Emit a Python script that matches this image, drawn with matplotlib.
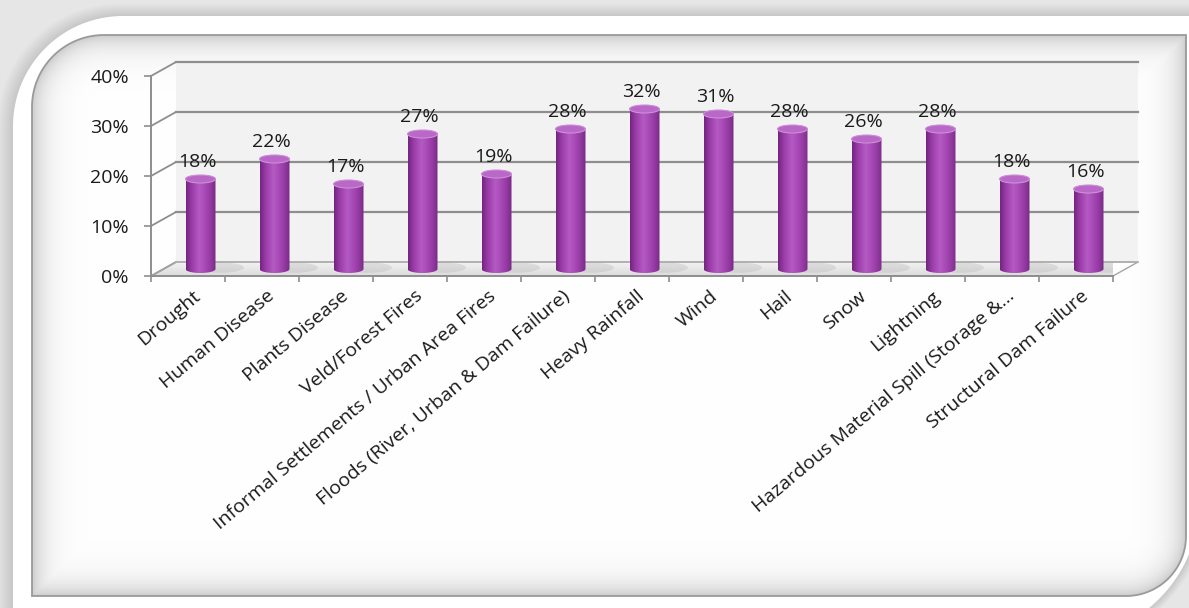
import numpy as np
import matplotlib
matplotlib.use("Agg")
import matplotlib.pyplot as plt
from matplotlib.path import Path
from matplotlib.patches import PathPatch, Ellipse, Polygon
from matplotlib.colors import LinearSegmentedColormap
from matplotlib.transforms import offset_copy

# --- dados ---
categories = [
    "Drought", "Human Disease", "Plants Disease", "Veld/Forest Fires",
    "Informal Settlements / Urban Area Fires",
    "Floods (River, Urban & Dam Failure)", "Heavy Rainfall", "Wind",
    "Hail", "Snow", "Lightning", "Hazardous Material Spill (Storage &...",
    "Structural Dam Failure",
]
values = [18, 22, 17, 27, 19, 28, 32, 31, 28, 26, 28, 18, 16]
y_ticks = [0, 10, 20, 30, 40]
y_tick_labels = ["0%", "10%", "20%", "30%", "40%"]

plt.rcParams['font.family'] = ['Open Sans', 'DejaVu Sans']

W, H = 1189, 608
fig = plt.figure(figsize=(W / 100, H / 100), dpi=100)
fig.patch.set_facecolor("#e6e6e6")


def rounded_path(x0, y0, x1, y1, r_tl, r_br, n=40):
    """Retangulo (y para baixo) com cantos arredondados sup-esq e inf-dir."""
    pts = []
    t = np.linspace(np.pi, 1.5 * np.pi, n)
    pts += list(zip(x0 + r_tl + r_tl * np.cos(t), y0 + r_tl + r_tl * np.sin(t)))
    pts.append((x1, y0))
    t = np.linspace(0, 0.5 * np.pi, n)
    pts += list(zip(x1 - r_br + r_br * np.cos(t), y1 - r_br + r_br * np.sin(t)))
    pts.append((x0, y1))
    pts.append(pts[0])
    return Path(pts, closed=True)


# --- moldura de fundo ---
bg = fig.add_axes([0, 0, 1, 1])
bg.set_xlim(0, W)
bg.set_ylim(H, 0)
bg.axis("off")

outer = rounded_path(13, 16, 1200, 640, 110, 140)
for k in range(10, 0, -1):
    sh = rounded_path(13 - k * 1.5, 16 - k * 1.2, 1200 + k, 640 + k, 110 + k, 140 + k * 1.5)
    bg.add_patch(PathPatch(sh, facecolor="black", edgecolor="none", alpha=0.010))
bg.add_patch(PathPatch(outer, facecolor="white", edgecolor="none"))

IX0, IY0, IX1, IY1 = 32, 35, 1186, 596
R_TL, R_BR = 72, 60
inner = rounded_path(IX0, IY0, IX1, IY1, R_TL, R_BR)

# sombreado interno (vinheta)
xx, yy = np.meshgrid(np.arange(IX0, IX1) + 0.5, np.arange(IY0, IY1) + 0.5)
d = np.minimum.reduce([xx - IX0, IX1 - xx, yy - IY0, IY1 - yy])
cx, cy = IX0 + R_TL, IY0 + R_TL
m = (xx < cx) & (yy < cy)
d[m] = R_TL - np.hypot(xx[m] - cx, yy[m] - cy)
cx, cy = IX1 - R_BR, IY1 - R_BR
m = (xx > cx) & (yy > cy)
d[m] = R_BR - np.hypot(xx[m] - cx, yy[m] - cy)
shade = 1 - 0.2 * np.exp(-np.clip(d, 0, None) / 14.0)
vig = bg.imshow(np.dstack([shade] * 3), extent=(IX0, IX1, IY1, IY0), origin="upper",
                aspect="auto", interpolation="bilinear", zorder=1)
vig.set_clip_path(PathPatch(inner, transform=bg.transData))
bg.add_patch(PathPatch(inner, facecolor="none", edgecolor="#9a9a9a", lw=1.3, zorder=2))
bg.set_xlim(0, W)
bg.set_ylim(H, 0)

# --- area do grafico ---
AX_L, AX_R, AX_T, AX_B = 151, 1113, 76, 276
ax = fig.add_axes([AX_L / W, 1 - AX_B / H, (AX_R - AX_L) / W, (AX_B - AX_T) / H])
ax.set_facecolor("none")
n = len(categories)
px_x = n / (AX_R - AX_L)
px_y = 40 / (AX_B - AX_T)
ddx, ddy = 25 * px_x, 14 * px_y  # profundidade 3D
grid_c = "#8e8e8e"

# parede de fundo levemente cinza
wall = Polygon([(ddx, ddy), (n + ddx, ddy), (n + ddx, 40 + ddy), (ddx, 40 + ddy)],
               closed=True, facecolor="#f2f2f2", edgecolor="none", zorder=0.5, clip_on=False)
ax.add_patch(wall)

# piso
floor = Polygon([(0, 0), (n, 0), (n + ddx, ddy), (ddx, ddy)], closed=True,
                facecolor="none", edgecolor="#a5a5a5", lw=1.0, zorder=2, clip_on=False)
fgrad = np.linspace(0.86, 0.95, 32)[:, None]
fimg = ax.imshow(np.dstack([np.repeat(fgrad, 4, 1)] * 3), extent=(0, n + ddx, 0, ddy),
                 origin="lower", aspect="auto", interpolation="bilinear", zorder=1)
fimg.set_clip_box(None)
fimg.set_clip_path(floor.get_path(), ax.transData)
ax.add_patch(floor)

# parede de fundo e lateral
for v in y_ticks:
    if v > 0:
        ax.plot([ddx, n + ddx], [v + ddy, v + ddy], color=grid_c, lw=1.6, zorder=1.5, clip_on=False)
    ax.plot([0, ddx], [v, v + ddy], color=grid_c, lw=1.3, zorder=1.5, clip_on=False)
ax.plot([ddx, n + ddx], [ddy, ddy], color="#b0b0b0", lw=1.2, zorder=2.1, clip_on=False)

# cilindros
cyl_cmap = LinearSegmentedColormap.from_list(
    "cyl", [(0, "#72257f"), (0.18, "#9a3ba8"), (0.45, "#b55ac4"),
            (0.75, "#9e40ac"), (1.0, "#7a2b87")])
grad = cyl_cmap(np.linspace(0, 1, 80))[None, :, :3]
hw = 15 * px_x
ry = 4 * px_y
label_tr = offset_copy(ax.transData, fig=fig, x=-3, y=4, units="dots")
for i, v in enumerate(values):
    xc = i + 0.5 + ddx / 2
    yb = ddy / 2
    # sombra no piso
    ax.add_patch(Ellipse((xc + 1.3 * hw, yb + 0.35 * ry), 3.2 * hw, 2.6 * ry,
                         facecolor="#9a9a9a", edgecolor="none", alpha=0.22, zorder=2.2))
    t1 = np.linspace(np.pi, 2 * np.pi, 40)
    t2 = np.linspace(0, np.pi, 40)
    bot = np.column_stack([xc + hw * np.cos(t1), yb + ry * np.sin(t1)])
    top = np.column_stack([xc + hw * np.cos(t2), yb + v + ry * np.sin(t2)])
    body = Path(np.vstack([bot, top, bot[:1]]), closed=True)
    im = ax.imshow(grad, extent=(xc - hw, xc + hw, yb - ry, yb + v + ry),
                   aspect="auto", interpolation="bilinear", zorder=3)
    im.set_clip_path(body, ax.transData)
    ax.add_patch(Ellipse((xc, yb + v), 2 * hw, 2 * ry, facecolor="#b968c8",
                         edgecolor="#cc90d8", lw=0.8, zorder=3.5))
    ax.text(xc, yb + v + ry, f"{v}%", transform=label_tr, ha="center", va="bottom",
            fontsize=14, color="#1a1a1a", zorder=5)

# eixos
for s in ("top", "right"):
    ax.spines[s].set_visible(False)
for s in ("left", "bottom"):
    ax.spines[s].set_color(grid_c)
    ax.spines[s].set_linewidth(1.4)
    ax.spines[s].set_zorder(2.5)
ax.set_yticks(y_ticks)
ax.set_yticklabels(y_tick_labels)
ax.set_xticks(np.arange(n + 1))
ax.set_xticklabels([])
ax.tick_params(axis="y", length=5, width=1.2, color=grid_c, pad=11,
               labelsize=14, labelcolor="#1a1a1a")
ax.tick_params(axis="x", length=4, width=1.2, color=grid_c)

cat_tr = offset_copy(ax.transData, fig=fig, x=4, y=-11, units="dots")
for i, c in enumerate(categories):
    ax.text(i + 0.5, 0, c, transform=cat_tr, rotation=40, rotation_mode="anchor",
            ha="right", va="top", fontsize=14, color="#1a1a1a", clip_on=False)

ax.set_xlim(0, n)
ax.set_ylim(0, 40)

fig.savefig("out.png", dpi=100)
